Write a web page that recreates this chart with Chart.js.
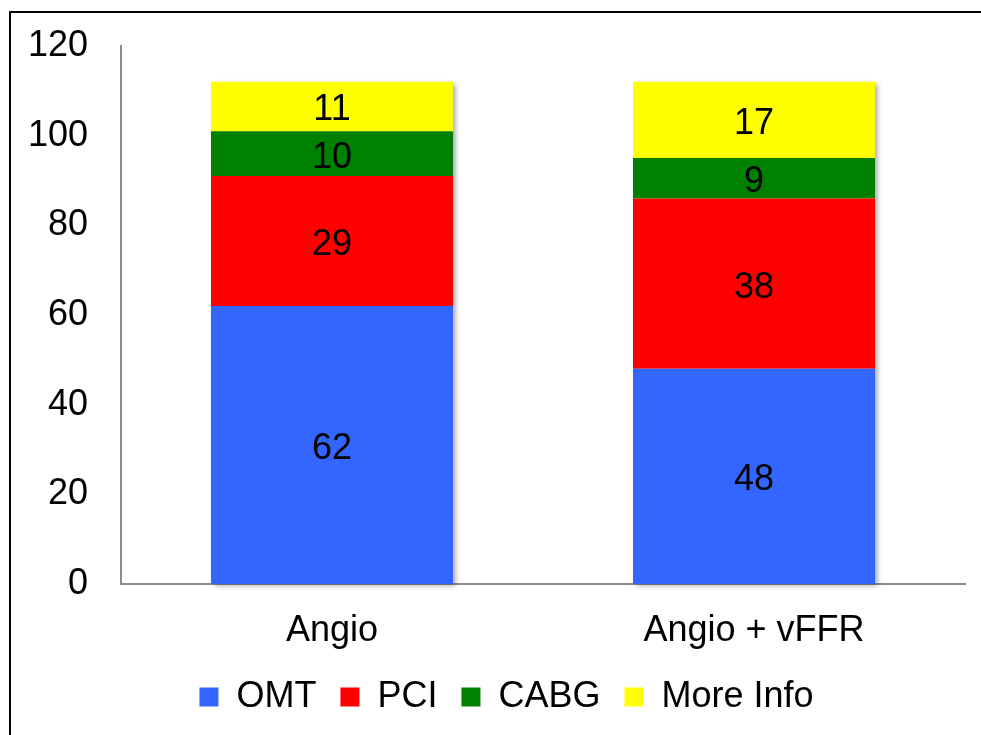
<!DOCTYPE html>
<html>
<head>
<meta charset="utf-8">
<script src="https://cdn.jsdelivr.net/npm/chart.js@4/dist/chart.umd.min.js"></script>
<style>
  html, body { margin: 0; padding: 0; background: #fff; }
  #wrap { position: relative; width: 981px; height: 735px; overflow: hidden; }
  #frame { position: absolute; left: 9px; top: 11px; width: 1000px; height: 800px;
           border-top: 2px solid #000; border-left: 2px solid #000; }
  canvas { position: absolute; left: 0; top: 0; }
</style>
</head>
<body>
<div id="wrap">
  <div id="frame"></div>
  <canvas id="c" width="981" height="735"></canvas>
</div>
<script>
const categories = ['Angio', 'Angio + vFFR'];
const seriesNames = ['OMT', 'PCI', 'CABG', 'More Info'];
const omt = [62, 48];
const pci = [29, 38];
const cabg = [10, 9];
const moreInfo = [11, 17];
const yTicks = [0, 20, 40, 60, 80, 100, 120];

const colors = ['#3366FF', '#FF0000', '#008000', '#FFFF00'];
const FONT = '"Liberation Sans", Arial, sans-serif';

const stackShadow = {
  id: 'stackShadow',
  beforeDatasetsDraw(chart) {
    const ctx = chart.ctx;
    const metas = chart.getSortedVisibleDatasetMetas();
    if (!metas.length) return;
    const n = metas[0].data.length;
    for (let i = 0; i < n; i++) {
      let top = Infinity, bottom = -Infinity, left = 0, right = 0;
      metas.forEach(m => {
        const el = m.data[i];
        const p = el.getProps(['x', 'y', 'base', 'width'], true);
        top = Math.min(top, p.y, p.base);
        bottom = Math.max(bottom, p.y, p.base);
        left = p.x - p.width / 2;
        right = p.x + p.width / 2;
      });
      ctx.save();
      ctx.shadowColor = 'rgba(0,0,0,0.35)';
      ctx.shadowBlur = 5;
      ctx.shadowOffsetX = 3;
      ctx.shadowOffsetY = 2;
      ctx.fillStyle = '#ffffff';
      ctx.fillRect(left, top, right - left, bottom - top);
      ctx.restore();
    }
  }
};

const valueLabels = {
  id: 'valueLabels',
  afterDatasetsDraw(chart) {
    const ctx = chart.ctx;
    ctx.save();
    ctx.font = '36px ' + FONT;
    ctx.fillStyle = '#000';
    ctx.textAlign = 'center';
    ctx.textBaseline = 'middle';
    chart.getSortedVisibleDatasetMetas().forEach(m => {
      const ds = chart.data.datasets[m.index];
      m.data.forEach((el, i) => {
        const p = el.getProps(['x', 'y', 'base'], true);
        ctx.fillText(String(ds.data[i]), p.x, (p.y + p.base) / 2 + 4);
      });
    });
    ctx.restore();
  }
};

// shift the legend block to sit where the original's legend sits
const legendShift = {
  id: 'legendShift',
  afterLayout(chart) {
    const lg = chart.legend;
    if (lg) { lg.left += 24; lg.right += 24; }
  }
};

const seriesData = [omt, pci, cabg, moreInfo];

new Chart(document.getElementById('c'), {
  type: 'bar',
  data: {
    labels: categories,
    datasets: seriesNames.map((name, k) => ({
      label: name,
      data: seriesData[k],
      backgroundColor: colors[k],
      borderWidth: 0,
      barPercentage: 1,
      categoryPercentage: 0.5735
    }))
  },
  options: {
    responsive: false,
    animation: false,
    devicePixelRatio: 1,
    layout: { padding: { top: 46, right: 16, bottom: 10, left: 0 } },
    plugins: {
      tooltip: { enabled: false },
      legend: {
        position: 'bottom',
        labels: {
          boxWidth: 19,
          boxHeight: 19,
          padding: 24,
          color: '#000',
          font: { family: FONT, size: 36 }
        }
      }
    },
    scales: {
      x: {
        stacked: true,
        grid: { display: false, drawTicks: false },
        border: { display: true, color: '#8c8c8c', width: 2 },
        ticks: { color: '#000', padding: 25, font: { family: FONT, size: 36 } },
        afterFit(scale) { scale.height = 71; }
      },
      y: {
        stacked: true,
        min: 0,
        max: 120,
        grid: { display: false, drawTicks: false },
        border: { display: true, color: '#8c8c8c', width: 2 },
        afterBuildTicks(scale) { scale.ticks = yTicks.map(v => ({ value: v })); },
        ticks: { color: '#000', padding: 33, font: { family: FONT, size: 36 } },
        afterFit(scale) { scale.width = 121; scale.paddingTop = 10; scale.paddingBottom = 10; }
      }
    }
  },
  plugins: [stackShadow, valueLabels, legendShift]
});
</script>
</body>
</html>
